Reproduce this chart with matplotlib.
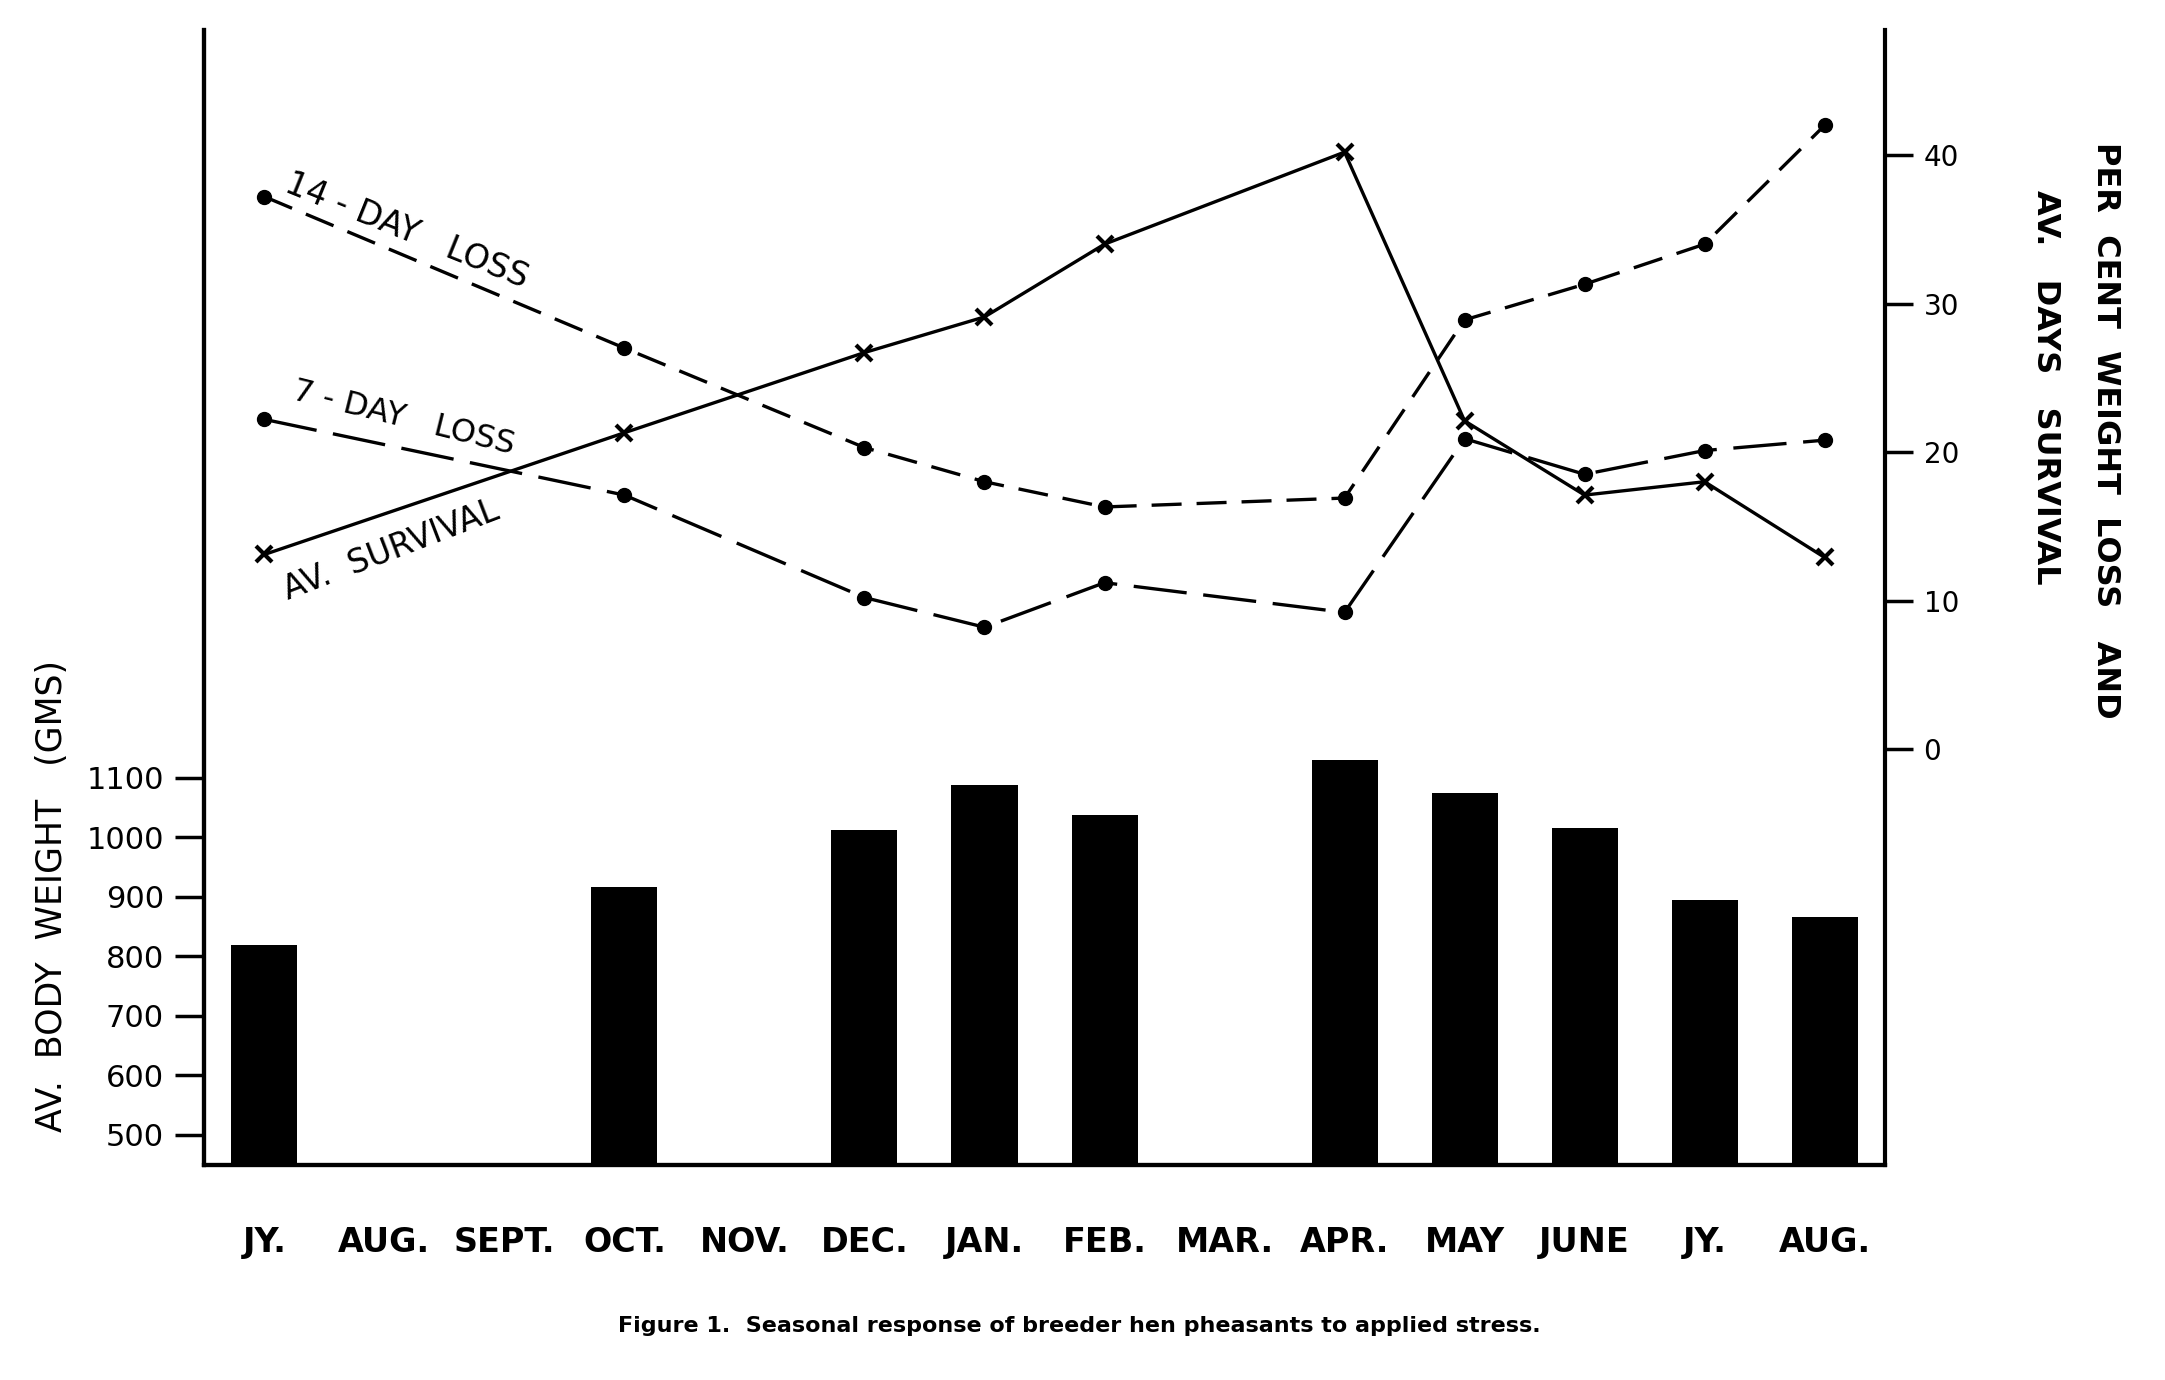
import numpy as np
import matplotlib
matplotlib.use("Agg")
import matplotlib.pyplot as plt

plt.rcParams['font.family'] = ['DejaVu Sans']

months = ["JY.", "AUG.", "SEPT.", "OCT.", "NOV.", "DEC.", "JAN.",
          "FEB.", "MAR.", "APR.", "MAY", "JUNE", "JY.", "AUG."]

# months that were sampled (index into months)
sampled = [0, 3, 5, 6, 7, 9, 10, 11, 12, 13]
body_weight = [819, 916, 1012, 1088, 1037, 1130, 1074, 1016, 895, 867]
loss_14day = [37.2, 27.0, 20.3, 18.0, 16.3, 16.9, 28.9, 31.3, 34.0, 42.0]
loss_7day = [22.2, 17.1, 10.2, 8.2, 11.2, 9.2, 20.9, 18.5, 20.1, 20.8]
survival = [13.1, 21.3, 26.7, 29.1, 34.0, 40.2, 22.1, 17.1, 18.0, 12.9]

fig = plt.figure(figsize=(21.65, 13.8), dpi=100)
ax1 = fig.add_axes([0.0944, 0.156, 0.7761, 0.822])
ax2 = ax1.twinx()

ax1.bar(sampled, body_weight, width=0.55, color="black", zorder=2)
ax1.set_xlim(-0.5, 13.5)
ax1.set_ylim(450, 2356)
ax1.set_yticks([500, 600, 700, 800, 900, 1000, 1100])
ax1.set_yticklabels(["500", "600", "700", "800", "900", "1000", "1100"])
ax1.set_xticks(range(len(months)))
ax1.set_xticklabels(months, fontweight="bold")

lw = 2.4
ax2.plot(sampled, loss_14day, color="black", lw=lw, dashes=(9, 4.5),
         marker="o", ms=10)
ax2.plot(sampled, loss_7day, color="black", lw=lw, dashes=(16, 5),
         marker="o", ms=10)
ax2.plot(sampled, survival, color="black", lw=lw, marker="x", ms=12,
         mew=3)
ax2.set_ylim(-28, 48.4)
ax2.set_yticks([0, 10, 20, 30, 40])

for ax in (ax1, ax2):
    ax.spines["top"].set_visible(False)
    for s in ("left", "right", "bottom"):
        ax.spines[s].set_linewidth(3)

ax1.spines["right"].set_visible(False)
ax1.tick_params(axis="y", length=21, width=2.5, labelsize=22, pad=8)
ax1.tick_params(axis="x", length=0, labelsize=24, pad=44)
ax2.tick_params(axis="y", length=20, width=2.5, labelsize=20, pad=8)

# labels written along the lines
ax2.text(1.19, 34.9, "14 - DAY   LOSS", fontsize=24, rotation=-22,
         ha="center", va="center", rotation_mode="anchor")
ax2.text(1.16, 22.3, "7 - DAY   LOSS", fontsize=23, rotation=-14,
         ha="center", va="center", rotation_mode="anchor")
ax2.text(1.06, 13.4, "AV.  SURVIVAL", fontsize=23.5, rotation=21,
         ha="center", va="center", rotation_mode="anchor")

fig.text(0.0242, 0.351, "AV.  BODY  WEIGHT   (GMS)", rotation=90,
         fontsize=25, ha="center", va="center")
fig.text(0.9726, 0.688, "PER  CENT  WEIGHT  LOSS   AND", rotation=-90,
         fontsize=23, fontweight="bold", ha="center", va="center")
fig.text(0.945, 0.719, "AV.   DAYS   SURVIVAL", rotation=-90,
         fontsize=23, fontweight="bold", ha="center", va="center")

fig.text(0.4987, 0.039,
         "Figure 1.  Seasonal response of breeder hen pheasants to applied stress.",
         fontsize=16, fontweight="bold", ha="center", va="center")

fig.savefig("out.png", dpi=100)
